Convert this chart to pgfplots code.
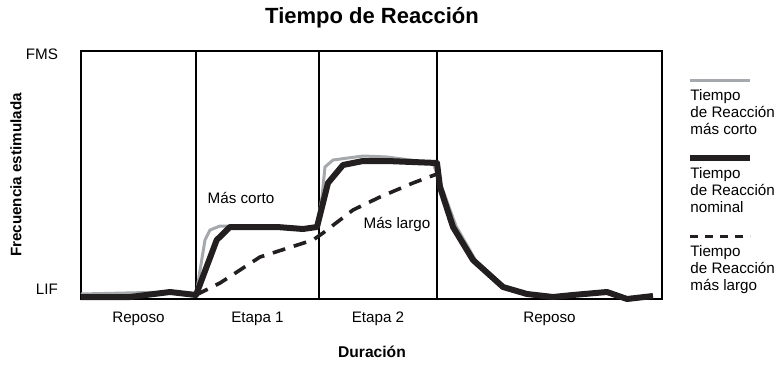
\documentclass[border=0pt]{standalone}
\usepackage{fontspec}
\setmainfont{Liberation Sans}
\usepackage{pgfplots}
\pgfplotsset{compat=1.18}
\definecolor{cortogray}{HTML}{A5A9AD}
\definecolor{nomblack}{HTML}{231F20}
\newcommand{\lbl}{\fontsize{7.6}{8.6}\selectfont}
\begin{document}
\begin{tikzpicture}
\path[use as bounding box] (-40.5pt,-33pt) rectangle (350.5pt,149.5pt);
\begin{axis}[
 width=290.5pt,height=124pt,scale only axis,
 xmin=81,xmax=662,ymin=0,ymax=248,
 clip=false,
 axis line style={line width=1pt},
 major tick length=0pt,
 xtick={138.5,257.5,378,549.5},
 xticklabels={Reposo,Etapa 1,Etapa 2,Reposo},
 ytick={10,245},
 yticklabels={LIF,FMS},
 tick label style={font=\lbl},
 xticklabel style={yshift=-3pt},
 yticklabel style={xshift=-8pt},
 extra x ticks={196,319,437},
 extra x tick labels={},
 extra x tick style={grid=major,major grid style={black,line width=0.6pt}},
]
% Tiempo de reaccion mas corto
\addplot[cortogray,line width=1.5pt,line join=round] coordinates {
(81,5) (170,7) (196,4) (205,59) (210,69) (220,73) (277,73) (303,71) (317,73)
(322,102) (325,132) (333,139) (363,143) (387,142) (433,136) (441,114) (456,73)
(476,38) (506,11) (530,5) (553,3) (573,5) (607,8) (627,1) (653,3)};
% nominal
\addplot[nomblack,line width=3pt,line join=round] coordinates {
(81,2) (130,2) (170,7) (196,4) (216.7,59) (230,72) (277,72) (303,70) (317,72)
(322,92) (328,116) (343,134) (363,138) (387,138) (437,136) (440,112) (453,72)
(473,39) (503,12) (527,5) (553,2) (573,4) (607,7) (627,0) (653,3)};
% mas largo
\addplot[nomblack,line width=1.8pt,dash pattern=on 6.5pt off 4.5pt] coordinates {
(196,4) (220,16) (260,42) (313,59) (323,66) (353,89) (380,102) (413,116) (437,125)};
\node[font=\lbl,anchor=center] at (axis cs:241,101) {Más corto};
\node[font=\lbl,anchor=center] at (axis cs:397,75) {Más largo};
\end{axis}
% title and labels
\node[font=\fontsize{11}{13}\selectfont\bfseries] at (145.5pt,140.5pt) {Tiempo de Reacción};
\node[font=\fontsize{7.8}{9}\selectfont\bfseries] at (145.5pt,-26.5pt) {Duración};
\node[font=\fontsize{7.6}{9}\selectfont\bfseries,rotate=90] at (-32.5pt,62pt) {Frecuencia estimulada};
% legend
\draw[cortogray,line width=1.5pt] (304.5pt,109.5pt) -- (334.5pt,109.5pt);
\node[font=\lbl,align=left,anchor=north west,inner sep=0pt] at (304.5pt,105pt) {Tiempo\\de Reacción\\más corto};
\draw[nomblack,line width=3pt] (304.5pt,70.5pt) -- (334.5pt,70.5pt);
\node[font=\lbl,align=left,anchor=north west,inner sep=0pt] at (304.5pt,66pt) {Tiempo\\de Reacción\\nominal};
\draw[nomblack,line width=1.5pt,dash pattern=on 4pt off 3.5pt] (304.5pt,31.5pt) -- (334.5pt,31.5pt);
\node[font=\lbl,align=left,anchor=north west,inner sep=0pt] at (304.5pt,27pt) {Tiempo\\de Reacción\\más largo};
\end{tikzpicture}
\end{document}
